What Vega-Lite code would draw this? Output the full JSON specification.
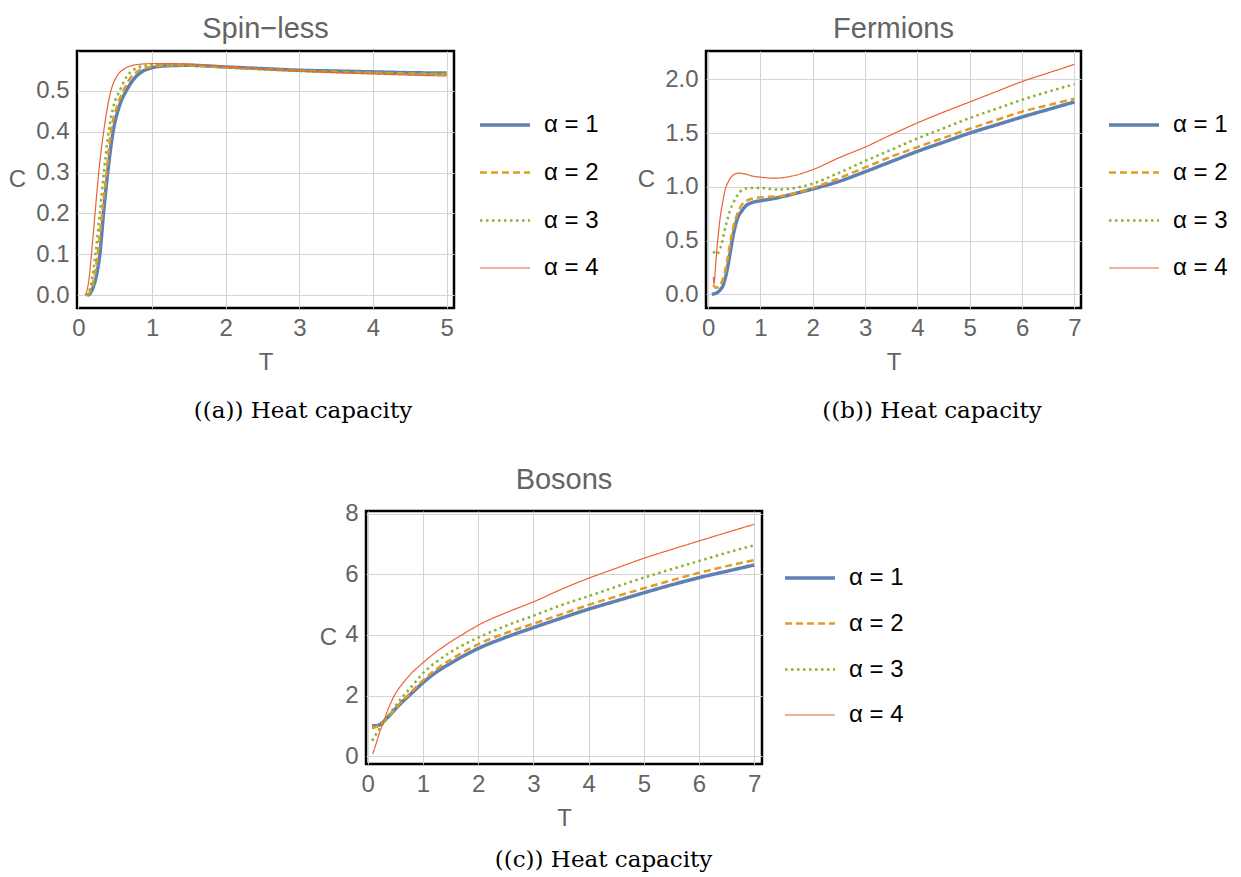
{
  "$schema": "https://vega.github.io/schema/vega-lite/v6.json",
  "background": "white",
  "padding": {"left": 7, "top": 13, "right": 5, "bottom": 5},
  "config": {
    "font": "Liberation Sans",
    "view": {"stroke": "black", "strokeWidth": 2.5},
    "axis": {
      "domain": false,
      "ticks": false,
      "grid": true,
      "gridColor": "#d4d4d4",
      "gridWidth": 1,
      "labelFontSize": 24,
      "labelColor": "#646464",
      "labelPadding": 8,
      "titleFontSize": 24,
      "titleColor": "#646464",
      "titleFontWeight": "normal"
    },
    "axisY": {"titleAngle": 0, "titleAlign": "right", "titleBaseline": "middle", "titlePadding": 10},
    "axisX": {"titlePadding": 10},
    "title": {"fontSize": 29, "fontWeight": "normal", "color": "#646464", "offset": 7},
    "legend": {
      "title": null,
      "symbolType": "stroke",
      "symbolSize": 2500,
      "labelFontSize": 24,
      "labelColor": "black",
      "labelOffset": 12,
      "rowPadding": 9
    },
    "concat": {"spacing": 20}
  },
  "vconcat": [
    {
      "hconcat": [
        {
          "title": {"text": "((a)) Heat capacity", "orient": "bottom", "anchor": "middle", "font": "DejaVu Serif", "fontSize": 23, "color": "black", "fontWeight": "normal", "offset": 25},
          "vconcat": [
            {
              "title": {"text": "Spin−less", "frame": "group"},
              "width": 377,
              "height": 257,
              "data": {"values": [
                {"T":0.12,"C":0.0,"alpha":"α = 1"},{"T":0.16,"C":0.005,"alpha":"α = 1"},{"T":0.2,"C":0.02,"alpha":"α = 1"},{"T":0.24,"C":0.045,"alpha":"α = 1"},{"T":0.29,"C":0.1,"alpha":"α = 1"},{"T":0.34,"C":0.2,"alpha":"α = 1"},{"T":0.4,"C":0.305,"alpha":"α = 1"},{"T":0.47,"C":0.4,"alpha":"α = 1"},{"T":0.56,"C":0.465,"alpha":"α = 1"},{"T":0.65,"C":0.5,"alpha":"α = 1"},{"T":0.75,"C":0.528,"alpha":"α = 1"},{"T":0.85,"C":0.545,"alpha":"α = 1"},{"T":1.0,"C":0.556,"alpha":"α = 1"},{"T":1.2,"C":0.561,"alpha":"α = 1"},{"T":1.5,"C":0.562,"alpha":"α = 1"},{"T":2.0,"C":0.558,"alpha":"α = 1"},{"T":2.5,"C":0.554,"alpha":"α = 1"},{"T":3.0,"C":0.55,"alpha":"α = 1"},{"T":3.5,"C":0.548,"alpha":"α = 1"},{"T":4.0,"C":0.546,"alpha":"α = 1"},{"T":4.5,"C":0.544,"alpha":"α = 1"},{"T":5.0,"C":0.543,"alpha":"α = 1"},
                {"T":0.11,"C":0.0,"alpha":"α = 2"},{"T":0.15,"C":0.006,"alpha":"α = 2"},{"T":0.19,"C":0.025,"alpha":"α = 2"},{"T":0.22,"C":0.05,"alpha":"α = 2"},{"T":0.26,"C":0.1,"alpha":"α = 2"},{"T":0.32,"C":0.2,"alpha":"α = 2"},{"T":0.38,"C":0.3,"alpha":"α = 2"},{"T":0.44,"C":0.4,"alpha":"α = 2"},{"T":0.52,"C":0.46,"alpha":"α = 2"},{"T":0.61,"C":0.5,"alpha":"α = 2"},{"T":0.7,"C":0.53,"alpha":"α = 2"},{"T":0.8,"C":0.547,"alpha":"α = 2"},{"T":0.95,"C":0.557,"alpha":"α = 2"},{"T":1.2,"C":0.562,"alpha":"α = 2"},{"T":1.5,"C":0.562,"alpha":"α = 2"},{"T":2.0,"C":0.557,"alpha":"α = 2"},{"T":2.5,"C":0.553,"alpha":"α = 2"},{"T":3.0,"C":0.549,"alpha":"α = 2"},{"T":3.5,"C":0.546,"alpha":"α = 2"},{"T":4.0,"C":0.544,"alpha":"α = 2"},{"T":4.5,"C":0.542,"alpha":"α = 2"},{"T":5.0,"C":0.541,"alpha":"α = 2"},
                {"T":0.1,"C":0.0,"alpha":"α = 3"},{"T":0.14,"C":0.008,"alpha":"α = 3"},{"T":0.18,"C":0.035,"alpha":"α = 3"},{"T":0.23,"C":0.1,"alpha":"α = 3"},{"T":0.29,"C":0.2,"alpha":"α = 3"},{"T":0.345,"C":0.3,"alpha":"α = 3"},{"T":0.41,"C":0.4,"alpha":"α = 3"},{"T":0.48,"C":0.465,"alpha":"α = 3"},{"T":0.56,"C":0.5,"alpha":"α = 3"},{"T":0.65,"C":0.533,"alpha":"α = 3"},{"T":0.75,"C":0.551,"alpha":"α = 3"},{"T":0.9,"C":0.561,"alpha":"α = 3"},{"T":1.1,"C":0.564,"alpha":"α = 3"},{"T":1.4,"C":0.563,"alpha":"α = 3"},{"T":2.0,"C":0.557,"alpha":"α = 3"},{"T":2.5,"C":0.552,"alpha":"α = 3"},{"T":3.0,"C":0.548,"alpha":"α = 3"},{"T":3.5,"C":0.545,"alpha":"α = 3"},{"T":4.0,"C":0.543,"alpha":"α = 3"},{"T":4.5,"C":0.541,"alpha":"α = 3"},{"T":5.0,"C":0.54,"alpha":"α = 3"},
                {"T":0.09,"C":0.0,"alpha":"α = 4"},{"T":0.12,"C":0.015,"alpha":"α = 4"},{"T":0.15,"C":0.05,"alpha":"α = 4"},{"T":0.176,"C":0.1,"alpha":"α = 4"},{"T":0.225,"C":0.2,"alpha":"α = 4"},{"T":0.275,"C":0.3,"alpha":"α = 4"},{"T":0.342,"C":0.4,"alpha":"α = 4"},{"T":0.441,"C":0.5,"alpha":"α = 4"},{"T":0.52,"C":0.535,"alpha":"α = 4"},{"T":0.61,"C":0.552,"alpha":"α = 4"},{"T":0.7,"C":0.56,"alpha":"α = 4"},{"T":0.8,"C":0.564,"alpha":"α = 4"},{"T":1.0,"C":0.566,"alpha":"α = 4"},{"T":1.3,"C":0.566,"alpha":"α = 4"},{"T":1.6,"C":0.564,"alpha":"α = 4"},{"T":2.0,"C":0.559,"alpha":"α = 4"},{"T":2.5,"C":0.553,"alpha":"α = 4"},{"T":3.0,"C":0.548,"alpha":"α = 4"},{"T":3.5,"C":0.544,"alpha":"α = 4"},{"T":4.0,"C":0.541,"alpha":"α = 4"},{"T":4.5,"C":0.538,"alpha":"α = 4"},{"T":5.0,"C":0.536,"alpha":"α = 4"}
              ]},
              "mark": {"type": "line", "clip": true, "interpolate": "monotone"},
              "encoding": {
                "x": {"field": "T", "type": "quantitative", "title": "T", "scale": {"domain": [-0.02, 5.1], "nice": false, "zero": false}, "axis": {"values": [0,1,2,3,4,5]}},
                "y": {"field": "C", "type": "quantitative", "title": "C", "scale": {"domain": [-0.031, 0.597], "nice": false, "zero": false}, "axis": {"values": [0,0.1,0.2,0.3,0.4,0.5], "format": ".1f"}},
                "color": {"field": "alpha", "type": "ordinal", "scale": {"domain": ["α = 1","α = 2","α = 3","α = 4"], "range": ["#5E81B5","#E19C24","#8FB032","#EB6235"]}, "legend": {"orient": "none", "legendX": 401, "legendY": 47}},
                "strokeDash": {"field": "alpha", "type": "ordinal", "scale": {"domain": ["α = 1","α = 2","α = 3","α = 4"], "range": [[1,0],[7,4],[2.5,3.5],[1,0]]}, "legend": {"orient": "none", "legendX": 401, "legendY": 47}},
                "strokeWidth": {"field": "alpha", "type": "ordinal", "scale": {"type": "ordinal", "domain": ["α = 1","α = 2","α = 3","α = 4"], "range": [3.5,2.5,2.5,1.2]}, "legend": {"orient": "none", "legendX": 401, "legendY": 47}}
              }
            }
          ]
        },
        {
          "title": {"text": "((b)) Heat capacity", "orient": "bottom", "anchor": "middle", "font": "DejaVu Serif", "fontSize": 23, "color": "black", "fontWeight": "normal", "offset": 25},
          "vconcat": [
            {
              "title": {"text": "Fermions", "frame": "group"},
              "width": 375,
              "height": 257,
              "data": {"values": [
                {"T":0.07,"C":0.0,"alpha":"α = 1"},{"T":0.15,"C":0.01,"alpha":"α = 1"},{"T":0.22,"C":0.035,"alpha":"α = 1"},{"T":0.3,"C":0.1,"alpha":"α = 1"},{"T":0.36,"C":0.22,"alpha":"α = 1"},{"T":0.42,"C":0.38,"alpha":"α = 1"},{"T":0.48,"C":0.55,"alpha":"α = 1"},{"T":0.55,"C":0.69,"alpha":"α = 1"},{"T":0.65,"C":0.78,"alpha":"α = 1"},{"T":0.74,"C":0.83,"alpha":"α = 1"},{"T":0.85,"C":0.855,"alpha":"α = 1"},{"T":1.0,"C":0.87,"alpha":"α = 1"},{"T":1.3,"C":0.895,"alpha":"α = 1"},{"T":1.6,"C":0.93,"alpha":"α = 1"},{"T":2.0,"C":0.98,"alpha":"α = 1"},{"T":2.5,"C":1.05,"alpha":"α = 1"},{"T":3.0,"C":1.14,"alpha":"α = 1"},{"T":3.5,"C":1.235,"alpha":"α = 1"},{"T":4.0,"C":1.33,"alpha":"α = 1"},{"T":4.5,"C":1.415,"alpha":"α = 1"},{"T":5.0,"C":1.5,"alpha":"α = 1"},{"T":5.5,"C":1.575,"alpha":"α = 1"},{"T":6.0,"C":1.65,"alpha":"α = 1"},{"T":6.5,"C":1.72,"alpha":"α = 1"},{"T":7.0,"C":1.79,"alpha":"α = 1"},
                {"T":0.1,"C":0.09,"alpha":"α = 2"},{"T":0.15,"C":0.06,"alpha":"α = 2"},{"T":0.22,"C":0.08,"alpha":"α = 2"},{"T":0.3,"C":0.17,"alpha":"α = 2"},{"T":0.36,"C":0.3,"alpha":"α = 2"},{"T":0.42,"C":0.47,"alpha":"α = 2"},{"T":0.48,"C":0.62,"alpha":"α = 2"},{"T":0.56,"C":0.75,"alpha":"α = 2"},{"T":0.64,"C":0.83,"alpha":"α = 2"},{"T":0.75,"C":0.875,"alpha":"α = 2"},{"T":0.9,"C":0.895,"alpha":"α = 2"},{"T":1.1,"C":0.905,"alpha":"α = 2"},{"T":1.4,"C":0.915,"alpha":"α = 2"},{"T":1.7,"C":0.945,"alpha":"α = 2"},{"T":2.0,"C":0.99,"alpha":"α = 2"},{"T":2.5,"C":1.08,"alpha":"α = 2"},{"T":3.0,"C":1.18,"alpha":"α = 2"},{"T":3.5,"C":1.28,"alpha":"α = 2"},{"T":4.0,"C":1.37,"alpha":"α = 2"},{"T":4.5,"C":1.455,"alpha":"α = 2"},{"T":5.0,"C":1.54,"alpha":"α = 2"},{"T":5.5,"C":1.62,"alpha":"α = 2"},{"T":6.0,"C":1.7,"alpha":"α = 2"},{"T":6.5,"C":1.76,"alpha":"α = 2"},{"T":7.0,"C":1.82,"alpha":"α = 2"},
                {"T":0.1,"C":0.4,"alpha":"α = 3"},{"T":0.16,"C":0.37,"alpha":"α = 3"},{"T":0.21,"C":0.4,"alpha":"α = 3"},{"T":0.26,"C":0.47,"alpha":"α = 3"},{"T":0.31,"C":0.58,"alpha":"α = 3"},{"T":0.36,"C":0.68,"alpha":"α = 3"},{"T":0.42,"C":0.78,"alpha":"α = 3"},{"T":0.49,"C":0.86,"alpha":"α = 3"},{"T":0.56,"C":0.92,"alpha":"α = 3"},{"T":0.65,"C":0.97,"alpha":"α = 3"},{"T":0.8,"C":0.99,"alpha":"α = 3"},{"T":1.0,"C":0.99,"alpha":"α = 3"},{"T":1.3,"C":0.975,"alpha":"α = 3"},{"T":1.6,"C":0.985,"alpha":"α = 3"},{"T":2.0,"C":1.03,"alpha":"α = 3"},{"T":2.5,"C":1.13,"alpha":"α = 3"},{"T":3.0,"C":1.24,"alpha":"α = 3"},{"T":3.5,"C":1.345,"alpha":"α = 3"},{"T":4.0,"C":1.45,"alpha":"α = 3"},{"T":4.5,"C":1.545,"alpha":"α = 3"},{"T":5.0,"C":1.64,"alpha":"α = 3"},{"T":5.5,"C":1.725,"alpha":"α = 3"},{"T":6.0,"C":1.81,"alpha":"α = 3"},{"T":6.5,"C":1.885,"alpha":"α = 3"},{"T":7.0,"C":1.955,"alpha":"α = 3"},
                {"T":0.1,"C":0.16,"alpha":"α = 4"},{"T":0.115,"C":0.1,"alpha":"α = 4"},{"T":0.14,"C":0.25,"alpha":"α = 4"},{"T":0.17,"C":0.43,"alpha":"α = 4"},{"T":0.2,"C":0.58,"alpha":"α = 4"},{"T":0.23,"C":0.71,"alpha":"α = 4"},{"T":0.28,"C":0.86,"alpha":"α = 4"},{"T":0.32,"C":0.96,"alpha":"α = 4"},{"T":0.4,"C":1.06,"alpha":"α = 4"},{"T":0.5,"C":1.115,"alpha":"α = 4"},{"T":0.58,"C":1.127,"alpha":"α = 4"},{"T":0.7,"C":1.12,"alpha":"α = 4"},{"T":0.85,"C":1.1,"alpha":"α = 4"},{"T":1.0,"C":1.09,"alpha":"α = 4"},{"T":1.28,"C":1.08,"alpha":"α = 4"},{"T":1.6,"C":1.1,"alpha":"α = 4"},{"T":2.0,"C":1.16,"alpha":"α = 4"},{"T":2.5,"C":1.27,"alpha":"α = 4"},{"T":3.0,"C":1.37,"alpha":"α = 4"},{"T":3.5,"C":1.485,"alpha":"α = 4"},{"T":4.0,"C":1.595,"alpha":"α = 4"},{"T":4.5,"C":1.695,"alpha":"α = 4"},{"T":5.0,"C":1.79,"alpha":"α = 4"},{"T":5.5,"C":1.885,"alpha":"α = 4"},{"T":6.0,"C":1.98,"alpha":"α = 4"},{"T":6.5,"C":2.06,"alpha":"α = 4"},{"T":7.0,"C":2.14,"alpha":"α = 4"}
              ]},
              "mark": {"type": "line", "clip": true, "interpolate": "monotone"},
              "encoding": {
                "x": {"field": "T", "type": "quantitative", "title": "T", "scale": {"domain": [-0.04, 7.125], "nice": false, "zero": false}, "axis": {"values": [0,1,2,3,4,5,6,7]}},
                "y": {"field": "C", "type": "quantitative", "title": "C", "scale": {"domain": [-0.128, 2.264], "nice": false, "zero": false}, "axis": {"values": [0,0.5,1,1.5,2], "format": ".1f"}},
                "color": {"field": "alpha", "type": "ordinal", "scale": {"domain": ["α = 1","α = 2","α = 3","α = 4"], "range": ["#5E81B5","#E19C24","#8FB032","#EB6235"]}, "legend": {"orient": "none", "legendX": 401, "legendY": 47}},
                "strokeDash": {"field": "alpha", "type": "ordinal", "scale": {"domain": ["α = 1","α = 2","α = 3","α = 4"], "range": [[1,0],[7,4],[2.5,3.5],[1,0]]}, "legend": {"orient": "none", "legendX": 401, "legendY": 47}},
                "strokeWidth": {"field": "alpha", "type": "ordinal", "scale": {"type": "ordinal", "domain": ["α = 1","α = 2","α = 3","α = 4"], "range": [3.5,2.5,2.5,1.2]}, "legend": {"orient": "none", "legendX": 401, "legendY": 47}}
              }
            }
          ]
        }
      ],
      "spacing": 37,
      "resolve": {"scale": {"color": "independent", "strokeDash": "independent", "strokeWidth": "independent"}, "legend": {"color": "independent", "strokeDash": "independent", "strokeWidth": "independent"}}
    },
    {
      "title": {"text": "((c)) Heat capacity", "orient": "bottom", "anchor": "middle", "font": "DejaVu Serif", "fontSize": 23, "color": "black", "fontWeight": "normal", "offset": 18, "dx": -25},
      "vconcat": [
        {
          "title": {"text": "Bosons", "frame": "group"},
          "width": 396,
          "height": 253,
          "data": {"values": [
            {"T":0.08,"C":1.0,"alpha":"α = 1"},{"T":0.15,"C":1.0,"alpha":"α = 1"},{"T":0.23,"C":1.05,"alpha":"α = 1"},{"T":0.3,"C":1.16,"alpha":"α = 1"},{"T":0.38,"C":1.31,"alpha":"α = 1"},{"T":0.5,"C":1.55,"alpha":"α = 1"},{"T":0.6,"C":1.74,"alpha":"α = 1"},{"T":0.74,"C":1.98,"alpha":"α = 1"},{"T":0.87,"C":2.2,"alpha":"α = 1"},{"T":1.0,"C":2.42,"alpha":"α = 1"},{"T":1.25,"C":2.78,"alpha":"α = 1"},{"T":1.5,"C":3.06,"alpha":"α = 1"},{"T":1.75,"C":3.32,"alpha":"α = 1"},{"T":2.0,"C":3.55,"alpha":"α = 1"},{"T":2.5,"C":3.92,"alpha":"α = 1"},{"T":3.0,"C":4.24,"alpha":"α = 1"},{"T":3.5,"C":4.55,"alpha":"α = 1"},{"T":4.0,"C":4.85,"alpha":"α = 1"},{"T":4.5,"C":5.12,"alpha":"α = 1"},{"T":5.0,"C":5.39,"alpha":"α = 1"},{"T":5.5,"C":5.65,"alpha":"α = 1"},{"T":6.0,"C":5.89,"alpha":"α = 1"},{"T":6.5,"C":6.1,"alpha":"α = 1"},{"T":7.0,"C":6.31,"alpha":"α = 1"},
            {"T":0.08,"C":0.92,"alpha":"α = 2"},{"T":0.15,"C":0.96,"alpha":"α = 2"},{"T":0.23,"C":1.03,"alpha":"α = 2"},{"T":0.3,"C":1.15,"alpha":"α = 2"},{"T":0.38,"C":1.32,"alpha":"α = 2"},{"T":0.5,"C":1.57,"alpha":"α = 2"},{"T":0.6,"C":1.77,"alpha":"α = 2"},{"T":0.74,"C":2.03,"alpha":"α = 2"},{"T":0.87,"C":2.27,"alpha":"α = 2"},{"T":1.0,"C":2.5,"alpha":"α = 2"},{"T":1.25,"C":2.88,"alpha":"α = 2"},{"T":1.5,"C":3.18,"alpha":"α = 2"},{"T":1.75,"C":3.45,"alpha":"α = 2"},{"T":2.0,"C":3.69,"alpha":"α = 2"},{"T":2.5,"C":4.06,"alpha":"α = 2"},{"T":3.0,"C":4.37,"alpha":"α = 2"},{"T":3.5,"C":4.68,"alpha":"α = 2"},{"T":4.0,"C":4.99,"alpha":"α = 2"},{"T":4.5,"C":5.27,"alpha":"α = 2"},{"T":5.0,"C":5.54,"alpha":"α = 2"},{"T":5.5,"C":5.8,"alpha":"α = 2"},{"T":6.0,"C":6.05,"alpha":"α = 2"},{"T":6.5,"C":6.27,"alpha":"α = 2"},{"T":7.0,"C":6.47,"alpha":"α = 2"},
            {"T":0.08,"C":0.51,"alpha":"α = 3"},{"T":0.12,"C":0.62,"alpha":"α = 3"},{"T":0.17,"C":0.78,"alpha":"α = 3"},{"T":0.23,"C":0.95,"alpha":"α = 3"},{"T":0.29,"C":1.11,"alpha":"α = 3"},{"T":0.36,"C":1.3,"alpha":"α = 3"},{"T":0.44,"C":1.5,"alpha":"α = 3"},{"T":0.53,"C":1.72,"alpha":"α = 3"},{"T":0.62,"C":1.93,"alpha":"α = 3"},{"T":0.74,"C":2.18,"alpha":"α = 3"},{"T":0.87,"C":2.46,"alpha":"α = 3"},{"T":1.0,"C":2.73,"alpha":"α = 3"},{"T":1.25,"C":3.12,"alpha":"α = 3"},{"T":1.5,"C":3.43,"alpha":"α = 3"},{"T":1.75,"C":3.69,"alpha":"α = 3"},{"T":2.0,"C":3.91,"alpha":"α = 3"},{"T":2.5,"C":4.3,"alpha":"α = 3"},{"T":3.0,"C":4.63,"alpha":"α = 3"},{"T":3.5,"C":4.98,"alpha":"α = 3"},{"T":4.0,"C":5.28,"alpha":"α = 3"},{"T":4.5,"C":5.59,"alpha":"α = 3"},{"T":5.0,"C":5.89,"alpha":"α = 3"},{"T":5.5,"C":6.17,"alpha":"α = 3"},{"T":6.0,"C":6.44,"alpha":"α = 3"},{"T":6.5,"C":6.71,"alpha":"α = 3"},{"T":7.0,"C":6.96,"alpha":"α = 3"},
            {"T":0.09,"C":0.07,"alpha":"α = 4"},{"T":0.13,"C":0.28,"alpha":"α = 4"},{"T":0.17,"C":0.51,"alpha":"α = 4"},{"T":0.21,"C":0.75,"alpha":"α = 4"},{"T":0.26,"C":1.0,"alpha":"α = 4"},{"T":0.32,"C":1.3,"alpha":"α = 4"},{"T":0.38,"C":1.6,"alpha":"α = 4"},{"T":0.44,"C":1.84,"alpha":"α = 4"},{"T":0.5,"C":2.05,"alpha":"α = 4"},{"T":0.6,"C":2.32,"alpha":"α = 4"},{"T":0.68,"C":2.5,"alpha":"α = 4"},{"T":0.8,"C":2.75,"alpha":"α = 4"},{"T":0.92,"C":2.95,"alpha":"α = 4"},{"T":1.0,"C":3.08,"alpha":"α = 4"},{"T":1.25,"C":3.45,"alpha":"α = 4"},{"T":1.5,"C":3.77,"alpha":"α = 4"},{"T":1.75,"C":4.05,"alpha":"α = 4"},{"T":2.0,"C":4.32,"alpha":"α = 4"},{"T":2.5,"C":4.73,"alpha":"α = 4"},{"T":3.0,"C":5.09,"alpha":"α = 4"},{"T":3.5,"C":5.5,"alpha":"α = 4"},{"T":4.0,"C":5.87,"alpha":"α = 4"},{"T":4.5,"C":6.2,"alpha":"α = 4"},{"T":5.0,"C":6.53,"alpha":"α = 4"},{"T":5.5,"C":6.82,"alpha":"α = 4"},{"T":6.0,"C":7.1,"alpha":"α = 4"},{"T":6.5,"C":7.38,"alpha":"α = 4"},{"T":7.0,"C":7.65,"alpha":"α = 4"}
          ]},
          "mark": {"type": "line", "clip": true, "interpolate": "monotone"},
          "encoding": {
            "x": {"field": "T", "type": "quantitative", "title": "T", "scale": {"domain": [-0.03, 7.14], "nice": false, "zero": false}, "axis": {"values": [0,1,2,3,4,5,6,7]}},
            "y": {"field": "C", "type": "quantitative", "title": "C", "scale": {"domain": [-0.26, 8.09], "nice": false, "zero": false}, "axis": {"values": [0,2,4,6,8], "titlePadding": 8}},
            "color": {"field": "alpha", "type": "ordinal", "scale": {"domain": ["α = 1","α = 2","α = 3","α = 4"], "range": ["#5E81B5","#E19C24","#8FB032","#EB6235"]}, "legend": {"orient": "none", "legendX": 382, "legendY": 5, "rowPadding": 7, "padding": 35}},
            "strokeDash": {"field": "alpha", "type": "ordinal", "scale": {"domain": ["α = 1","α = 2","α = 3","α = 4"], "range": [[1,0],[7,4],[2.5,3.5],[1,0]]}, "legend": {"orient": "none", "legendX": 382, "legendY": 5, "rowPadding": 7, "padding": 35}},
            "strokeWidth": {"field": "alpha", "type": "ordinal", "scale": {"type": "ordinal", "domain": ["α = 1","α = 2","α = 3","α = 4"], "range": [3.5,2.5,2.5,1.2]}, "legend": {"orient": "none", "legendX": 382, "legendY": 5, "rowPadding": 7, "padding": 35}}
          }
        }
      ]
    }
  ],
  "center": true,
  "spacing": 40,
  "resolve": {"scale": {"color": "independent", "strokeDash": "independent", "strokeWidth": "independent"}, "legend": {"color": "independent", "strokeDash": "independent", "strokeWidth": "independent"}}
}
